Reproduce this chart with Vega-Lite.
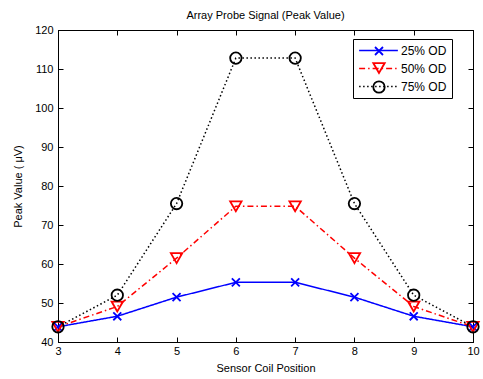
{
  "$schema": "https://vega.github.io/schema/vega-lite/v6.json",
  "width": 415,
  "height": 312,
  "autosize": {"type": "none"},
  "padding": {"left": 58, "top": 30, "right": 10, "bottom": 37},
  "background": "white",
  "title": {
    "text": "Array Probe Signal (Peak Value)",
    "font": "Liberation Sans",
    "fontSize": 11,
    "fontWeight": "normal",
    "color": "black",
    "anchor": "middle",
    "frame": "group",
    "offset": 3
  },
  "config": {
    "font": "Liberation Sans",
    "view": {"stroke": "black", "strokeWidth": 1},
    "axis": {
      "grid": false,
      "domainColor": "black",
      "domainWidth": 1,
      "tickColor": "black",
      "tickWidth": 1,
      "tickSize": -5,
      "labelColor": "black",
      "labelFontSize": 11,
      "labelFont": "Liberation Sans",
      "labelFlush": false,
      "labelOverlap": false,
      "titleColor": "black",
      "titleFontSize": 11,
      "titleFont": "Liberation Sans",
      "titleFontWeight": "normal"
    }
  },
  "data": {
    "values": [
      {"pos": 3, "series": "25% OD", "value": 43.9},
      {"pos": 4, "series": "25% OD", "value": 46.6},
      {"pos": 5, "series": "25% OD", "value": 51.5},
      {"pos": 6, "series": "25% OD", "value": 55.3},
      {"pos": 7, "series": "25% OD", "value": 55.3},
      {"pos": 8, "series": "25% OD", "value": 51.5},
      {"pos": 9, "series": "25% OD", "value": 46.6},
      {"pos": 10, "series": "25% OD", "value": 43.9},
      {"pos": 3, "series": "50% OD", "value": 43.9},
      {"pos": 4, "series": "50% OD", "value": 49.1},
      {"pos": 5, "series": "50% OD", "value": 61.5},
      {"pos": 6, "series": "50% OD", "value": 74.8},
      {"pos": 7, "series": "50% OD", "value": 74.8},
      {"pos": 8, "series": "50% OD", "value": 61.5},
      {"pos": 9, "series": "50% OD", "value": 49.1},
      {"pos": 10, "series": "50% OD", "value": 43.9},
      {"pos": 3, "series": "75% OD", "value": 43.9},
      {"pos": 4, "series": "75% OD", "value": 52.0},
      {"pos": 5, "series": "75% OD", "value": 75.5},
      {"pos": 6, "series": "75% OD", "value": 112.8},
      {"pos": 7, "series": "75% OD", "value": 112.8},
      {"pos": 8, "series": "75% OD", "value": 75.5},
      {"pos": 9, "series": "75% OD", "value": 52.0},
      {"pos": 10, "series": "75% OD", "value": 43.9}
    ]
  },
  "layer": [
    {
      "mark": {"type": "line", "strokeWidth": 1.5},
      "encoding": {
        "x": {
          "field": "pos",
          "type": "quantitative",
          "scale": {"domain": [3, 10], "nice": false},
          "axis": {
            "orient": "bottom",
            "title": "Sensor Coil Position",
            "values": [3, 4, 5, 6, 7, 8, 9, 10],
            "format": "d",
            "labelPadding": 8,
            "titlePadding": 6
          }
        },
        "y": {
          "field": "value",
          "type": "quantitative",
          "scale": {"domain": [40, 120], "nice": false, "zero": false},
          "axis": {
            "orient": "left",
            "title": "Peak Value ( μV)",
            "values": [40, 50, 60, 70, 80, 90, 100, 110, 120],
            "labelPadding": 10,
            "titlePadding": 11
          }
        },
        "color": {
          "field": "series",
          "type": "nominal",
          "scale": {"range": ["#0000ff", "#ff0000", "#000000"]},
          "legend": {
            "orient": "none",
            "legendX": 295,
            "legendY": 9,
            "title": null,
            "symbolType": "M-3.4,0H3.4",
            "symbolSize": 130,
            "symbolStrokeWidth": 1.5,
            "symbolOffset": 14,
            "labelFontSize": 12,
            "labelColor": "black",
            "labelOffset": 16,
            "padding": 5,
            "rowPadding": 5,
            "strokeColor": "black"
          }
        },
        "strokeDash": {
          "field": "series",
          "type": "nominal",
          "scale": {"range": [[1, 0], [6, 3, 1.5, 3], [1.5, 2.5]]},
          "legend": {
            "orient": "none",
            "legendX": 295,
            "legendY": 9,
            "title": null,
            "symbolType": "M-3.4,0H3.4",
            "symbolSize": 130,
            "symbolStrokeWidth": 1.5,
            "symbolOffset": 14,
            "labelFontSize": 12,
            "labelColor": "black",
            "labelOffset": 16,
            "padding": 5,
            "rowPadding": 5,
            "strokeColor": "black"
          }
        }
      }
    },
    {
      "mark": {"type": "point", "filled": false, "size": 130, "strokeWidth": 1.8, "opacity": 1},
      "encoding": {
        "x": {
          "field": "pos",
          "type": "quantitative",
          "axis": {"orient": "top", "title": null, "labels": false, "values": [3, 4, 5, 6, 7, 8, 9, 10]}
        },
        "y": {
          "field": "value",
          "type": "quantitative",
          "axis": {"orient": "right", "title": null, "labels": false, "values": [40, 50, 60, 70, 80, 90, 100, 110, 120]}
        },
        "shape": {
          "field": "series",
          "type": "nominal",
          "scale": {
            "domain": ["25% OD", "50% OD", "75% OD"],
            "range": ["M-0.7,-0.7L0.7,0.7M-0.7,0.7L0.7,-0.7", "triangle-down", "circle"]
          },
          "legend": {
            "orient": "none",
            "legendX": 295,
            "legendY": 9,
            "title": null,
            "symbolSize": 130,
            "symbolStrokeWidth": 1.8,
            "symbolOffset": 14,
            "labelFontSize": 12,
            "labelExpr": "''",
            "labelOffset": 16,
            "padding": 5,
            "rowPadding": 0
          }
        },
        "stroke": {
          "field": "series",
          "type": "nominal",
          "scale": {
            "domain": ["25% OD", "50% OD", "75% OD"],
            "range": ["#0000ff", "#ff0000", "#000000"]
          },
          "legend": {
            "orient": "none",
            "legendX": 295,
            "legendY": 9,
            "title": null,
            "symbolSize": 130,
            "symbolStrokeWidth": 1.8,
            "symbolOffset": 14,
            "labelFontSize": 12,
            "labelExpr": "''",
            "labelOffset": 16,
            "padding": 5,
            "rowPadding": 0
          }
        }
      }
    }
  ],
  "resolve": {"axis": {"x": "independent", "y": "independent"}}
}
